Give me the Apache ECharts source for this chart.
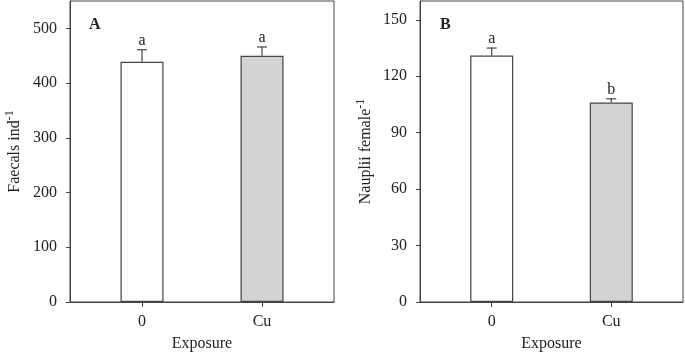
<!DOCTYPE html>
<html>
<head>
<meta charset="utf-8">
<script src="https://cdn.jsdelivr.net/npm/echarts@6/dist/echarts.min.js"></script>
<style>
  html, body { margin: 0; padding: 0; background: #fff; }
  #main { width: 685px; height: 353px; }
</style>
</head>
<body>
<div id="main"></div>
<script>
var categories = ['0', 'Cu'];
var catPos = [0, 1];

// panel A
var faecalsMean = [439, 450];
var faecalsErr = [22, 16];
var faecalsLetters = ['a', 'a'];
var faecalsTicks = [0, 100, 200, 300, 400, 500];

// panel B
var naupliiMean = [131, 106];
var naupliiErr = [4, 2];
var naupliiLetters = ['a', 'b'];
var naupliiTicks = [0, 30, 60, 90, 120, 150];

var barColors = ['#ffffff', '#d3d3d3'];
var font = 'Liberation Serif';
var lineColor = '#444';
var textColor = '#222';

var myChart = echarts.init(document.getElementById('main'));

function xAxis(gi) {
    return {
        type: 'value', gridIndex: gi, min: -0.6, max: 1.6,
        name: 'Exposure', nameLocation: 'middle', nameGap: 34,
        nameTextStyle: { fontFamily: font, fontSize: 16, color: textColor },
        axisLine: { show: true, onZero: false, lineStyle: { color: lineColor } },
        axisTick: { show: true, length: 5, customValues: catPos, lineStyle: { color: lineColor } },
        axisLabel: {
            customValues: catPos, margin: 12,
            fontFamily: font, fontSize: 16, color: textColor,
            formatter: function (v) { return categories[Math.round(v)]; }
        },
        splitLine: { show: false }
    };
}

function yAxis(gi, max, ticks, label, gap) {
    return {
        type: 'value', gridIndex: gi, min: 0, max: max,
        name: label, nameLocation: 'middle', nameGap: gap,
        nameTextStyle: {
            fontFamily: font, fontSize: 16, color: textColor,
            rich: {
                n: { fontFamily: font, fontSize: 16, color: textColor },
                s: { fontFamily: font, fontSize: 12, color: textColor, padding: [0, 0, 9, 0] }
            }
        },
        axisLine: { show: true, onZero: false, lineStyle: { color: lineColor } },
        axisTick: { show: true, length: 4, customValues: ticks, lineStyle: { color: lineColor } },
        axisLabel: { customValues: ticks, margin: 13, fontFamily: font, fontSize: 16, color: textColor },
        splitLine: { show: false }
    };
}

function barData(means) {
    return means.map(function (v, i) {
        return { value: [catPos[i], v], itemStyle: { color: barColors[i] } };
    });
}

function errSeries(gi, means, errs, letters) {
    return {
        type: 'custom', xAxisIndex: gi, yAxisIndex: gi, z: 5,
        data: means.map(function (v, i) { return [catPos[i], v, errs[i], i]; }),
        renderItem: function (params, api) {
            var x = api.value(0), v = api.value(1), e = api.value(2);
            var p0 = api.coord([x, v]);
            var p1 = api.coord([x, v + e]);
            var idx = api.value(3);
            return {
                type: 'group',
                children: [
                    { type: 'line', shape: { x1: p0[0], y1: p0[1], x2: p1[0], y2: p1[1] }, style: { stroke: lineColor, lineWidth: 1.2 } },
                    { type: 'line', shape: { x1: p1[0] - 5, y1: p1[1], x2: p1[0] + 5, y2: p1[1] }, style: { stroke: lineColor, lineWidth: 1.2 } },
                    { type: 'text', x: p1[0], y: p1[1] - 1, style: { text: letters[idx], fontFamily: font, fontSize: 16, fill: textColor, align: 'center', verticalAlign: 'bottom' } }
                ]
            };
        }
    };
}

myChart.setOption({
    animation: false,
    grid: [
        { left: 70, right: 351, top: 1, bottom: 51, outerBoundsMode: 'none', show: true, borderColor: lineColor, borderWidth: 1 },
        { left: 420, right: 2, top: 1, bottom: 51, outerBoundsMode: 'none', show: true, borderColor: lineColor, borderWidth: 1 }
    ],
    xAxis: [xAxis(0), xAxis(1)],
    yAxis: [
        yAxis(0, 550, faecalsTicks, '{n|Faecals ind}{s|-1}', 45),
        yAxis(1, 160, naupliiTicks, '{n|Nauplii female}{s|-1}', 44)
    ],
    graphic: [
        { type: 'text', left: 89, top: 17, style: { text: 'A', fontFamily: font, fontSize: 16, fontWeight: 'bold', fill: textColor } },
        { type: 'text', left: 440, top: 17, style: { text: 'B', fontFamily: font, fontSize: 16, fontWeight: 'bold', fill: textColor } }
    ],
    series: [
        { type: 'bar', xAxisIndex: 0, yAxisIndex: 0, barWidth: 43, data: barData(faecalsMean),
          itemStyle: { borderColor: lineColor, borderWidth: 1.2 } },
        errSeries(0, faecalsMean, faecalsErr, faecalsLetters),
        { type: 'bar', xAxisIndex: 1, yAxisIndex: 1, barWidth: 43, data: barData(naupliiMean),
          itemStyle: { borderColor: lineColor, borderWidth: 1.2 } },
        errSeries(1, naupliiMean, naupliiErr, naupliiLetters)
    ]
});
</script>
</body>
</html>
